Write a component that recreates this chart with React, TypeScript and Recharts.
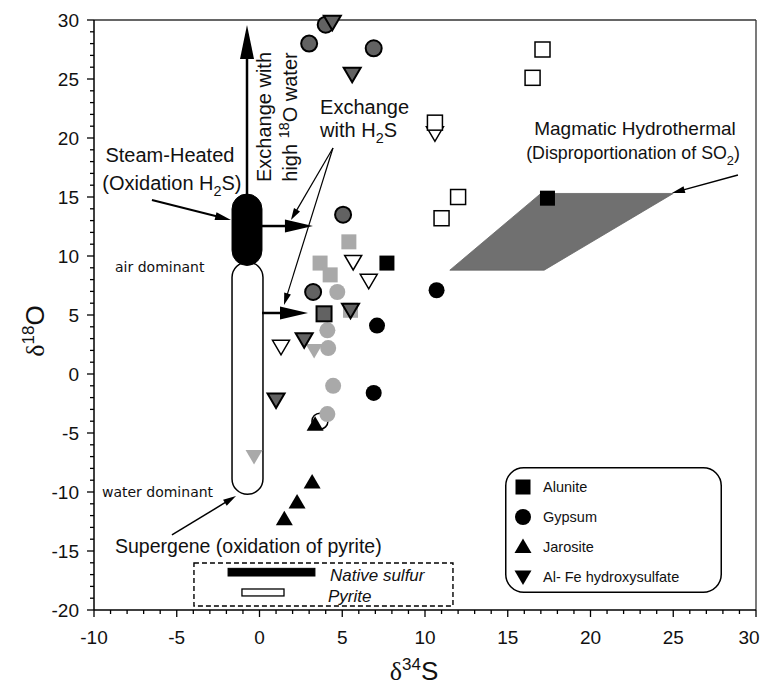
import React from 'react';
import {
  ScatterChart,
  Scatter,
  XAxis,
  YAxis,
  ReferenceLine,
  ReferenceArea,
  ReferenceDot,
  Legend,
} from 'recharts';

const FONT = '"Liberation Sans", Arial, Helvetica, sans-serif';
const SERIF = '"Liberation Serif", "Times New Roman", serif';
const INK = '#111';

// ---------- axes ----------
const xTicks = Array.from({ length: 41 }, (_, i) => i - 10);
const yTicks = Array.from({ length: 51 }, (_, i) => i - 20);

// ---------- data (δ34S = x, δ18O = y) ----------
const aluniteBlack = [{ x: 7.7, y: 9.4 }, { x: 17.4, y: 14.9 }];
const aluniteOpen = [
  { x: 17.1, y: 27.5 }, { x: 16.5, y: 25.1 }, { x: 10.6, y: 21.3 },
  { x: 12.0, y: 15.0 }, { x: 11.0, y: 13.2 },
];
const aluniteLight = [
  { x: 5.4, y: 11.2 }, { x: 3.66, y: 9.4 }, { x: 4.27, y: 8.4 }, { x: 5.5, y: 5.4 },
];
const aluniteDark = [{ x: 3.9, y: 5.1 }];
const gypsumBlack = [{ x: 10.7, y: 7.1 }, { x: 7.1, y: 4.1 }, { x: 6.9, y: -1.6 }];
const gypsumDark = [
  { x: 3.0, y: 28.0 }, { x: 6.9, y: 27.6 }, { x: 4.0, y: 29.6 },
  { x: 5.05, y: 13.5 }, { x: 3.24, y: 6.95 },
];
const gypsumLight = [
  { x: 4.7, y: 6.95 }, { x: 4.1, y: 3.7 }, { x: 4.15, y: 2.2 },
  { x: 4.45, y: -1.0 }, { x: 4.1, y: -3.4 },
];
const gypsumOpen = [{ x: 3.65, y: -4.0 }];
const jarosite = [
  { x: 3.36, y: -4.3 }, { x: 3.18, y: -9.2 }, { x: 2.27, y: -10.9 }, { x: 1.5, y: -12.3 },
];
const hydroDark = [
  { x: 4.4, y: 29.8 }, { x: 5.6, y: 25.4 }, { x: 5.5, y: 5.4 },
  { x: 2.7, y: 2.9 }, { x: 1.0, y: -2.2 },
];
const hydroOpen = [
  { x: 10.6, y: 20.4 }, { x: 5.66, y: 9.5 }, { x: 6.6, y: 7.9 }, { x: 1.3, y: 2.3 },
];
const hydroLight = [{ x: 3.3, y: 2.0 }, { x: -0.33, y: -7.0 }];

// ---------- fields / annotations (data coordinates) ----------
const magmaticField = [
  { x: 11.5, y: 8.8 }, { x: 17.2, y: 8.8 }, { x: 25.0, y: 15.3 }, { x: 17.0, y: 15.3 },
];
const pyriteRange = { x1: -1.66, x2: 0.21, y1: -10.2, y2: 9.5 };
const sulfurRange = { x1: -1.66, x2: 0.15, y1: 9.2, y2: 15.25 };
const keyBox = { x1: -3.96, x2: 11.69, y1: -19.66, y2: -16.02 };
const keySulfurBar = { x1: -1.9, x2: 3.35, y1: -17.12, y2: -16.47 };
const keyPyriteBar = { x1: -1.06, x2: 1.48, y1: -18.81, y2: -18.22 };

const arrowUp = [{ x: -0.755, y: 15.17 }, { x: -0.755, y: 29.58 }];
const arrowTop = [{ x: 0.15, y: 12.54 }, { x: 3.23, y: 12.54 }];
const arrowLow = [{ x: 0.15, y: 5.17 }, { x: 2.93, y: 5.17 }];
const arrowThin1 = [{ x: 4.44, y: 19.15 }, { x: 1.9, y: 13.05 }];
const arrowThin2 = [{ x: 4.44, y: 19.15 }, { x: 1.48, y: 5.85 }];
const arrowSteam = [{ x: -6.5, y: 14.75 }, { x: -1.72, y: 13.05 }];
const arrowSupergene = [{ x: -5.29, y: -13.64 }, { x: -1.42, y: -10.34 }];
const arrowMagmatic = [{ x: 28.91, y: 16.86 }, { x: 24.92, y: 15.34 }];

const notes = {
  steam1: { x: -5.41, y: 18.56, text: 'Steam-Heated' },
  steam2: { x: -5.29, y: 16.19, text: '(Oxidation H_{2}S)' },
  exch1: { x: 3.66, y: 22.63, text: 'Exchange' },
  exch2: { x: 3.66, y: 20.68, text: 'with H_{2}S' },
  mag1: { x: 22.69, y: 20.85, text: 'Magmatic Hydrothermal' },
  mag2: { x: 22.57, y: 18.73, text: '(Disproportionation of SO_{2})' },
  air: { x: -8.73, y: 9.07, text: 'air dominant' },
  water: { x: -9.52, y: -10.0, text: 'water dominant' },
  supergene: { x: -8.73, y: -14.58, text: 'Supergene (oxidation of pyrite)' },
  native: { x: 4.26, y: -17.03, text: 'Native sulfur' },
  pyrite: { x: 4.14, y: -18.81, text: 'Pyrite' },
  rot1: { x: 0.27, y: 21.78, text: 'Exchange with' },
  rot2: { x: 1.84, y: 21.78, text: 'high ^{18}O water' },
};

const legendItems = [
  { name: 'Alunite', kind: 'square' },
  { name: 'Gypsum', kind: 'circle' },
  { name: 'Jarosite', kind: 'up' },
  { name: 'Al- Fe hydroxysulfate', kind: 'down' },
];

// ---------- helpers ----------
type Look = { fill: string; stroke?: string; sw?: number };
const BLACK: Look = { fill: '#000' };
const DARK: Look = { fill: '#626262', stroke: '#000', sw: 2 };
const LIGHT: Look = { fill: '#a9a9a9' };
const OPEN: Look = { fill: '#fff', stroke: '#000', sw: 1.5 };

function symbol(kind: string, cx: number, cy: number, look: Look, key?: string) {
  const c = { fill: look.fill, stroke: look.stroke || 'none', strokeWidth: look.sw || 0, key };
  switch (kind) {
    case 'square':
      return <rect {...c} x={cx - 7.5} y={cy - 7.5} width={15} height={15} />;
    case 'circle':
      return <circle {...c} cx={cx} cy={cy} r={8} />;
    case 'up':
      return <polygon {...c} points={`${cx},${cy - 8.5} ${cx + 8.5},${cy + 6} ${cx - 8.5},${cy + 6}`} />;
    default:
      return <polygon {...c} points={`${cx - 8.5},${cy - 6.5} ${cx + 8.5},${cy - 6.5} ${cx},${cy + 8}`} />;
  }
}

const marker = (kind: string, look: Look) => (p: any) => {
  if (p == null || p.cx == null || p.cy == null) return <g />;
  return symbol(kind, p.cx, p.cy, look);
};

function rich(str: string, size: number) {
  const out: any[] = [];
  const re = /([_^])\{([^}]*)\}/g;
  let last = 0;
  let cur = 0;
  let k = 0;
  let m: RegExpExecArray | null;
  while ((m = re.exec(str))) {
    if (m.index > last) {
      out.push(<tspan key={k++} dy={-cur}>{str.slice(last, m.index)}</tspan>);
      cur = 0;
    }
    const target = m[1] === '_' ? size * 0.3 : -size * 0.4;
    out.push(
      <tspan key={k++} dy={target - cur} fontSize={size * 0.72}>
        {m[2]}
      </tspan>
    );
    cur = target;
    last = re.lastIndex;
  }
  if (last < str.length) out.push(<tspan key={k++} dy={-cur}>{str.slice(last)}</tspan>);
  return out;
}

type NoteOpts = { size: number; anchor?: 'start' | 'middle' | 'end'; italic?: boolean; family?: string; rotate?: boolean };
const noteShape = (text: string, o: NoteOpts) => (p: any) => {
  const { cx, cy } = p;
  const tr = o.rotate ? `rotate(-90 ${cx} ${cy})` : undefined;
  return (
    <text
      x={cx}
      y={cy + o.size * 0.35}
      transform={tr}
      textAnchor={o.anchor || 'start'}
      fontSize={o.size}
      fontFamily={o.family || FONT}
      fontStyle={o.italic ? 'italic' : 'normal'}
      fill={INK}
    >
      {rich(text, o.size)}
    </text>
  );
};

const arrowShape = (head: number, hw: number, sw: number) => (p: any) => {
  const { x1, y1, x2, y2 } = p;
  const dx = x2 - x1;
  const dy = y2 - y1;
  const L = Math.hypot(dx, dy) || 1;
  const ux = dx / L;
  const uy = dy / L;
  const bx = x2 - ux * head;
  const by = y2 - uy * head;
  const nx = -uy;
  const ny = ux;
  return (
    <g>
      <line x1={x1} y1={y1} x2={bx + ux * 2} y2={by + uy * 2} stroke="#000" strokeWidth={sw} />
      <polygon
        points={`${x2},${y2} ${bx + (nx * hw) / 2},${by + (ny * hw) / 2} ${bx - (nx * hw) / 2},${by - (ny * hw) / 2}`}
        fill="#000"
      />
    </g>
  );
};

const capsuleShape = (fill: string, stroke: string, sw: number) => (p: any) => (
  <rect x={p.x} y={p.y} width={p.width} height={p.height} rx={p.width / 2} ry={p.width / 2} fill={fill} stroke={stroke} strokeWidth={sw} />
);

const rectShape = (fill: string, stroke: string, sw: number, dash?: string) => (p: any) => (
  <rect x={p.x} y={p.y} width={p.width} height={p.height} fill={fill} stroke={stroke} strokeWidth={sw} strokeDasharray={dash} />
);

const fxMin = Math.min(...magmaticField.map((d) => d.x));
const fxMax = Math.max(...magmaticField.map((d) => d.x));
const fyMin = Math.min(...magmaticField.map((d) => d.y));
const fyMax = Math.max(...magmaticField.map((d) => d.y));
const polygonShape = (p: any) => {
  const pts = magmaticField
    .map((d) => {
      const px = p.x + ((d.x - fxMin) / (fxMax - fxMin)) * p.width;
      const py = p.y + ((fyMax - d.y) / (fyMax - fyMin)) * p.height;
      return `${px},${py}`;
    })
    .join(' ');
  return <polygon points={pts} fill="#707070" stroke="#666" strokeWidth={0.8} />;
};

const XTick = (p: any) => {
  const { x, y, payload } = p;
  const v = payload.value;
  const major = v % 5 === 0;
  const shift = v === 30 ? -7 : 0;
  return (
    <g>
      <line x1={x} x2={x} y1={y} y2={y + (major ? 7 : 4)} stroke="#000" strokeWidth={1.3} />
      {major && (
        <text x={x + shift} y={y + 34} textAnchor="middle" fontSize={19} fontFamily={FONT} fill={INK}>
          {v}
        </text>
      )}
    </g>
  );
};

const YTick = (p: any) => {
  const { x, y, payload } = p;
  const v = payload.value;
  const major = v % 5 === 0;
  return (
    <g>
      <line x1={x} x2={x - (major ? 7 : 4)} y1={y} y2={y} stroke="#000" strokeWidth={1.3} />
      {major && (
        <text x={x - 15} y={y + 6.8} textAnchor="end" fontSize={19} fontFamily={FONT} fill={INK}>
          {v}
        </text>
      )}
    </g>
  );
};

const xLabel = (p: any) => {
  const vb = p.viewBox || { x: 86, y: 602, width: 662, height: 77 };
  const cx = vb.x + vb.width / 2 - 11;
  const by = vb.y + 70;
  return (
    <text x={cx} y={by} textAnchor="middle" fontSize={26} fontFamily={FONT} fill={INK}>
      <tspan fontFamily={SERIF}>δ</tspan>
      <tspan dy={-10} fontSize={17}>34</tspan>
      <tspan dy={10}>S</tspan>
    </text>
  );
};

const yLabel = (p: any) => {
  const vb = p.viewBox || { x: 0, y: 12, width: 86, height: 590 };
  const cx = vb.x + 35.5;
  const cy = vb.y + vb.height / 2 + 16;
  return (
    <text x={cx} y={cy} transform={`rotate(-90 ${cx} ${cy})`} textAnchor="middle" fontSize={26} fontFamily={FONT} fill={INK}>
      <tspan fontFamily={SERIF}>δ</tspan>
      <tspan dy={-10} fontSize={17}>18</tspan>
      <tspan dy={10}>O</tspan>
    </text>
  );
};

const LegendBox = () => (
  <svg width={217} height={126} style={{ display: 'block' }}>
    <rect x={0.75} y={0.75} width={215.5} height={124.5} rx={18} fill="#fff" stroke="#000" strokeWidth={1.5} />
    {legendItems.map((it, i) => {
      const cy = 20 + i * 30;
      return (
        <g key={it.name}>
          {symbol(it.kind, 18, cy, BLACK)}
          <text x={38} y={cy + 5} fontSize={14.5} fontFamily={FONT} fill={INK}>
            {it.name}
          </text>
        </g>
      );
    })}
  </svg>
);

export default function App() {
  return (
    <ScatterChart width={761} height={679} margin={{ top: 12, right: 13, bottom: 0, left: 0 }}>
      <XAxis
        type="number"
        dataKey="x"
        domain={[-10, 30]}
        ticks={xTicks}
        interval={0}
        tickSize={0}
        tickMargin={0}
        tickLine={false}
        tick={XTick}
        axisLine={{ stroke: '#000', strokeWidth: 1.5 }}
        height={77}
        label={{ content: xLabel }}
      />
      <YAxis
        type="number"
        dataKey="y"
        domain={[-20, 30]}
        ticks={yTicks}
        interval={0}
        tickSize={0}
        tickMargin={0}
        tickLine={false}
        tick={YTick}
        axisLine={{ stroke: '#000', strokeWidth: 1.5 }}
        width={86}
        label={{ content: yLabel }}
      />

      <ReferenceLine y={30} stroke="#333" strokeWidth={1.3} />
      <ReferenceLine x={30} stroke="#333" strokeWidth={1.3} />

      <ReferenceArea x1={fxMin} x2={fxMax} y1={fyMin} y2={fyMax} shape={polygonShape} />
      <ReferenceArea {...pyriteRange} shape={capsuleShape('#fff', '#000', 1.5)} />
      <ReferenceArea {...sulfurRange} shape={capsuleShape('#000', '#000', 1)} />
      <ReferenceArea {...keyBox} shape={rectShape('none', '#000', 1.4, '5 3')} />
      <ReferenceArea {...keySulfurBar} shape={rectShape('#000', '#000', 1)} />
      <ReferenceArea {...keyPyriteBar} shape={rectShape('#fff', '#000', 1.3)} />

      <ReferenceLine segment={arrowUp} shape={arrowShape(34, 14, 2.5)} />
      <ReferenceLine segment={arrowTop} shape={arrowShape(28, 13, 2.5)} />
      <ReferenceLine segment={arrowLow} shape={arrowShape(28, 13, 2.5)} />
      <ReferenceLine segment={arrowThin1} shape={arrowShape(12, 7, 1.2)} />
      <ReferenceLine segment={arrowThin2} shape={arrowShape(12, 7, 1.2)} />
      <ReferenceLine segment={arrowSteam} shape={arrowShape(16, 8, 2)} />
      <ReferenceLine segment={arrowSupergene} shape={arrowShape(13, 7, 1.5)} />
      <ReferenceLine segment={arrowMagmatic} shape={arrowShape(13, 7, 1.5)} />

      <Scatter data={gypsumOpen} shape={marker('circle', OPEN)} isAnimationActive={false} legendType="none" />
      <Scatter data={aluniteLight} shape={marker('square', LIGHT)} isAnimationActive={false} legendType="none" />
      <Scatter data={gypsumLight} shape={marker('circle', LIGHT)} isAnimationActive={false} legendType="none" />
      <Scatter data={hydroLight} shape={marker('down', LIGHT)} isAnimationActive={false} legendType="none" />
      <Scatter data={hydroOpen} shape={marker('down', OPEN)} isAnimationActive={false} legendType="none" />
      <Scatter data={aluniteOpen} shape={marker('square', OPEN)} isAnimationActive={false} legendType="none" />
      <Scatter data={gypsumDark} shape={marker('circle', DARK)} isAnimationActive={false} legendType="none" />
      <Scatter data={aluniteDark} shape={marker('square', DARK)} isAnimationActive={false} legendType="none" />
      <Scatter data={hydroDark} shape={marker('down', DARK)} isAnimationActive={false} legendType="none" />
      <Scatter data={gypsumBlack} shape={marker('circle', BLACK)} isAnimationActive={false} legendType="none" />
      <Scatter data={aluniteBlack} shape={marker('square', BLACK)} isAnimationActive={false} legendType="none" />
      <Scatter data={jarosite} shape={marker('up', BLACK)} isAnimationActive={false} legendType="none" />

      <ReferenceDot x={notes.steam1.x} y={notes.steam1.y} shape={noteShape(notes.steam1.text, { size: 20, anchor: 'middle' })} />
      <ReferenceDot x={notes.steam2.x} y={notes.steam2.y} shape={noteShape(notes.steam2.text, { size: 20, anchor: 'middle' })} />
      <ReferenceDot x={notes.exch1.x} y={notes.exch1.y} shape={noteShape(notes.exch1.text, { size: 20 })} />
      <ReferenceDot x={notes.exch2.x} y={notes.exch2.y} shape={noteShape(notes.exch2.text, { size: 20 })} />
      <ReferenceDot x={notes.mag1.x} y={notes.mag1.y} shape={noteShape(notes.mag1.text, { size: 19, anchor: 'middle' })} />
      <ReferenceDot x={notes.mag2.x} y={notes.mag2.y} shape={noteShape(notes.mag2.text, { size: 17.8, anchor: 'middle' })} />
      <ReferenceDot x={notes.air.x} y={notes.air.y} shape={noteShape(notes.air.text, { size: 14, family: '"DejaVu Sans", sans-serif' })} />
      <ReferenceDot x={notes.water.x} y={notes.water.y} shape={noteShape(notes.water.text, { size: 14, family: '"DejaVu Sans", sans-serif' })} />
      <ReferenceDot x={notes.supergene.x} y={notes.supergene.y} shape={noteShape(notes.supergene.text, { size: 19.5 })} />
      <ReferenceDot x={notes.native.x} y={notes.native.y} shape={noteShape(notes.native.text, { size: 17, italic: true })} />
      <ReferenceDot x={notes.pyrite.x} y={notes.pyrite.y} shape={noteShape(notes.pyrite.text, { size: 17, italic: true })} />
      <ReferenceDot x={notes.rot1.x} y={notes.rot1.y} shape={noteShape(notes.rot1.text, { size: 20, anchor: 'middle', rotate: true })} />
      <ReferenceDot x={notes.rot2.x} y={notes.rot2.y} shape={noteShape(notes.rot2.text, { size: 20, anchor: 'middle', rotate: true })} />

      <Legend
        layout="vertical"
        align="center"
        verticalAlign="middle"
        content={() => <LegendBox />}
        wrapperStyle={{ left: 497, top: 459, width: 217, height: 126 }}
      />
    </ScatterChart>
  );
}
